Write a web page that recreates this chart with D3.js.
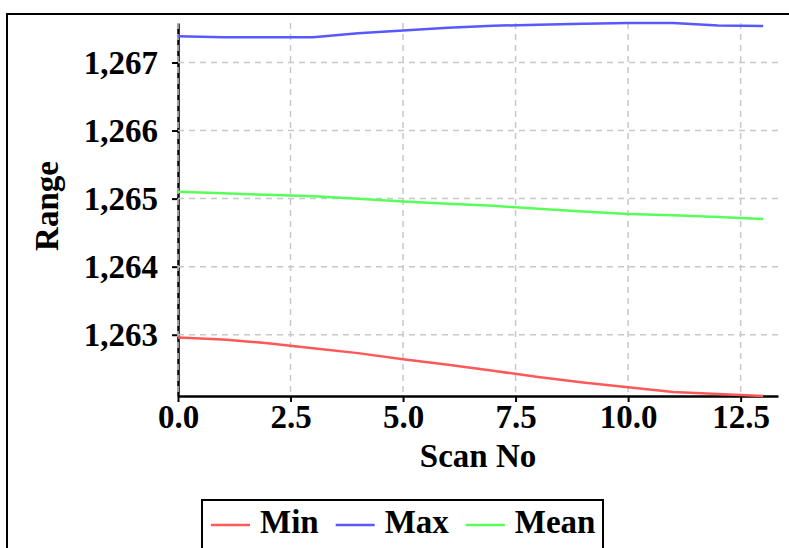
<!DOCTYPE html>
<html>
<head>
<meta charset="utf-8">
<script src="https://cdn.jsdelivr.net/npm/d3@7"></script>
<style>
  body { margin: 0; background: #fff; }
  svg text { font-family: "Liberation Serif", "Times New Roman", serif; font-weight: bold; fill: #000; }
  .grid line { stroke: #c8c8c8; stroke-width: 1.5; stroke-dasharray: 6,5; }
</style>
</head>
<body>
<script>
// scan numbers and range readings
var scanNo = [0, 1, 2, 3, 4, 5, 6, 7, 8, 9, 10, 11, 12, 13];
var minVals = [1262.96, 1262.93, 1262.875, 1262.80, 1262.73, 1262.64, 1262.56, 1262.47, 1262.38, 1262.30, 1262.23, 1262.16, 1262.13, 1262.10];
var maxVals = [1267.385, 1267.37, 1267.37, 1267.37, 1267.43, 1267.47, 1267.51, 1267.54, 1267.555, 1267.57, 1267.58, 1267.58, 1267.545, 1267.535];
var meanVals = [1265.10, 1265.078, 1265.055, 1265.034, 1264.997, 1264.956, 1264.926, 1264.894, 1264.85, 1264.81, 1264.773, 1264.754, 1264.73, 1264.70];
var seriesNames = ["Min", "Max", "Mean"];
var seriesColors = ["#ff5858", "#5858ff", "#58ff58"];
var xTicks = [0, 2.5, 5, 7.5, 10, 12.5];
var yTicks = [1263, 1264, 1265, 1266, 1267];

window.onload = drawChart();

function drawChart(){
    var width = 789,
        height = 548;
    var left = 178, right = 778, top = 23, bottom = 396;

    var svg = d3.select("body")
        .append("svg")
        .attr("width", width)
        .attr("height", height);

    //outer frame (runs past the right and bottom edge)
    svg.append("rect")
        .attr("x", 7).attr("y", 14)
        .attr("width", 800).attr("height", 560)
        .attr("fill", "none")
        .attr("stroke", "#000")
        .attr("stroke-width", 2);

    var series = [minVals, maxVals, meanVals].map(function(vals, i){
        return { name: seriesNames[i], color: seriesColors[i],
                 values: vals.map(function(v, j){ return { x: scanNo[j], y: v }; }) };
    });

    var allVals = minVals.concat(maxVals, meanVals);

    var x = d3.scaleLinear()
        .domain([0, 13.33])
        .range([left, right]);

    var y = d3.scaleLinear()
        .domain(d3.extent(allVals))
        .range([bottom, top]);

    //axes
    var xAxis = svg.append("g")
        .attr("transform", "translate(0," + bottom + ")")
        .call(d3.axisBottom(x).tickValues(xTicks).tickFormat(d3.format(".1f")).tickSize(6).tickPadding(3).tickSizeOuter(0));
    var yAxis = svg.append("g")
        .attr("transform", "translate(" + left + ",0)")
        .call(d3.axisLeft(y).tickValues(yTicks).tickFormat(d3.format(",")).tickSize(6).tickPadding(14).tickSizeOuter(0));

    [xAxis, yAxis].forEach(function(a){
        a.select(".domain").attr("stroke", "#000").attr("stroke-width", 2.5);
        a.selectAll(".tick line").attr("stroke", "#000").attr("stroke-width", 2);
        a.selectAll(".tick text").style("font-size", "33px").attr("font-family", null);
    });

    //grid lines drawn on top of the axis lines
    svg.append("g").attr("class", "grid")
        .selectAll("line")
        .data(yTicks)
        .enter()
        .append("line")
        .attr("x1", left).attr("x2", right)
        .attr("y1", function(d){ return y(d); })
        .attr("y2", function(d){ return y(d); });

    svg.append("g").attr("class", "grid")
        .selectAll("line")
        .data(xTicks)
        .enter()
        .append("line")
        .attr("x1", function(d){ return x(d); })
        .attr("x2", function(d){ return x(d); })
        .attr("y1", top).attr("y2", bottom);

    //data lines
    var line = d3.line()
        .x(function(d){ return x(d.x); })
        .y(function(d){ return y(d.y); });

    svg.selectAll(".series")
        .data(series)
        .enter()
        .append("path")
        .attr("class", "series")
        .attr("fill", "none")
        .attr("stroke", function(d){ return d.color; })
        .attr("stroke-width", 2.5)
        .attr("stroke-linejoin", "round")
        .attr("d", function(d){ return line(d.values); });

    //axis titles
    svg.append("text")
        .attr("x", (left + right) / 2)
        .attr("y", 467)
        .attr("text-anchor", "middle")
        .style("font-size", "33px")
        .text("Scan No");

    svg.append("text")
        .attr("transform", "translate(58,206) rotate(-90)")
        .attr("text-anchor", "middle")
        .style("font-size", "33px")
        .text("Range");

    //legend
    var legend = svg.append("g");
    legend.append("rect")
        .attr("x", 202).attr("y", 500)
        .attr("width", 401).attr("height", 80)
        .attr("fill", "#fff")
        .attr("stroke", "#000")
        .attr("stroke-width", 2);

    var lx = 211;
    series.forEach(function(s){
        legend.append("line")
            .attr("x1", lx).attr("x2", lx + 39)
            .attr("y1", 525).attr("y2", 525)
            .attr("stroke", s.color)
            .attr("stroke-width", 2.5);
        var t = legend.append("text")
            .attr("x", lx + 49)
            .attr("y", 533)
            .style("font-size", "33px")
            .text(s.name);
        lx = lx + 49 + t.node().getComputedTextLength() + 17;
    });
};
</script>
</body>
</html>
